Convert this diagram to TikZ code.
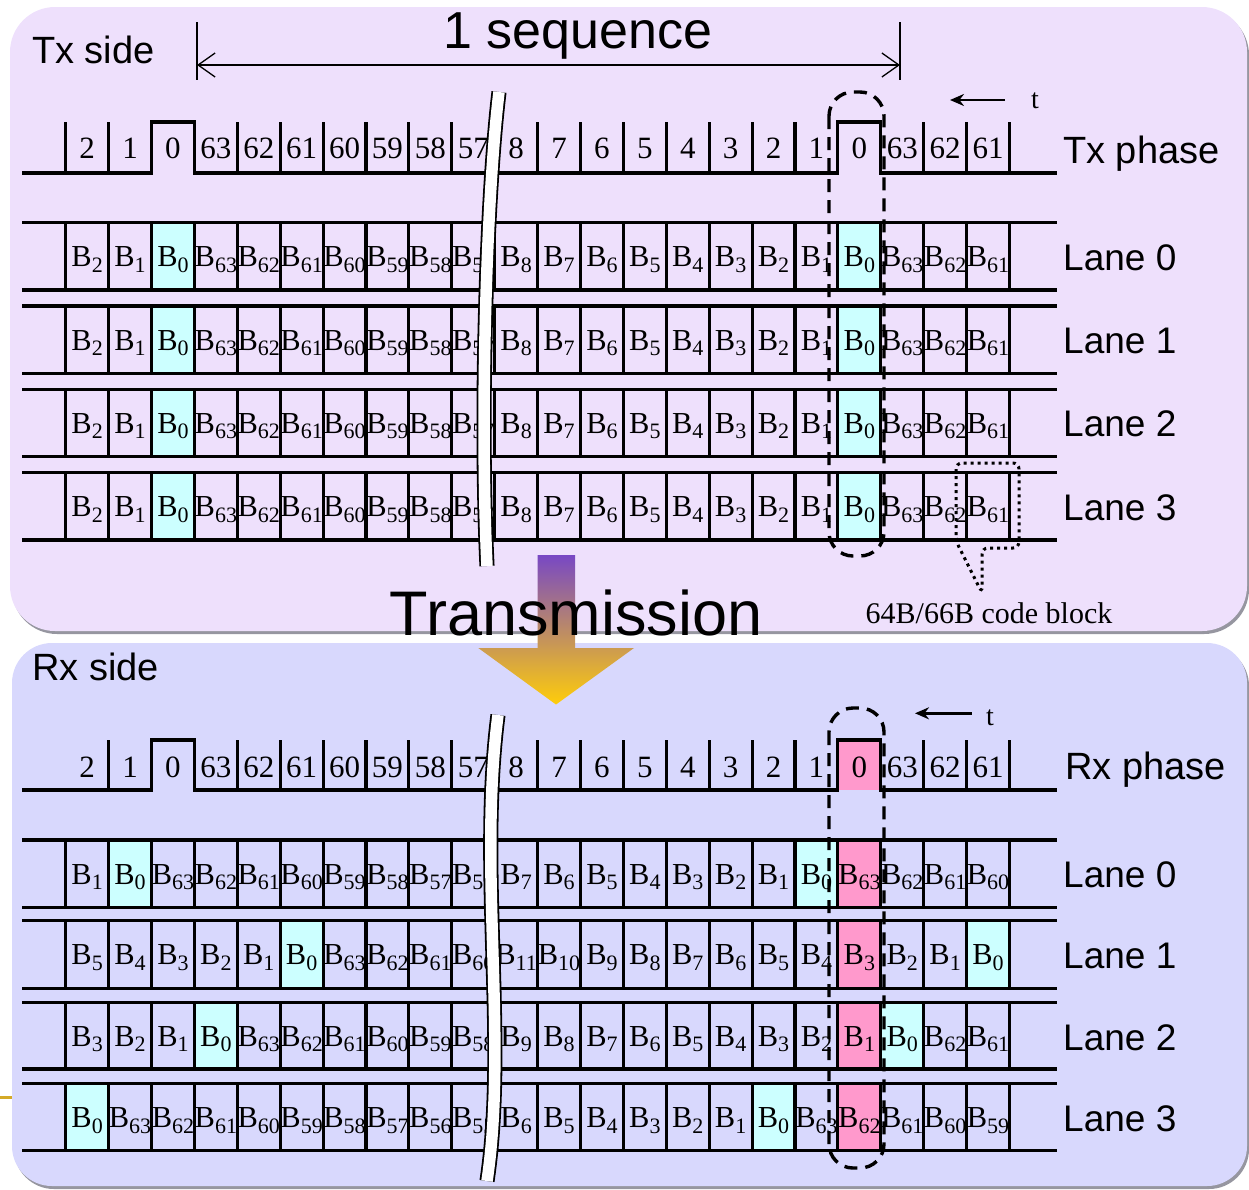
\documentclass[tikz,border=0pt]{standalone}
\usepackage{fontspec}
\setmainfont{Liberation Serif}
\newfontfamily\arialf{Liberation Sans}
\usetikzlibrary{arrows.meta}
\definecolor{toppanel}{RGB}{238,224,252}
\definecolor{botpanel}{RGB}{216,216,253}
\definecolor{shadowc}{RGB}{150,150,160}
\definecolor{cy}{RGB}{204,255,255}
\definecolor{pk}{RGB}{255,153,204}
\definecolor{arrtop}{RGB}{120,72,196}
\definecolor{arrmid}{RGB}{208,158,145}
\definecolor{arrbot}{RGB}{255,205,10}
\definecolor{goldc}{RGB}{212,170,40}
\newcommand\bsub[1]{B\raisebox{-0.18em}{\fontsize{22}{22}\selectfont #1}}
\newcommand\lanerow[4]{%
  \foreach \s/\f [count=\k from 0] in {#3} {%
    \path[fill=\f] (65.7+42.9*\k,#1) rectangle (108.6+42.9*\k,#2);
  }%
  \draw[grid] (22,#1) -- (1057,#1) (22,#2) -- (1057,#2);
  \foreach \k in {0,...,22} {\draw[grid] (65.7+42.9*\k,#1) -- (65.7+42.9*\k,#2);}%
  \pgfmathsetmacro\yb{(#1+#2)/2+10.5}%
  \foreach \s/\f [count=\k from 0] in {#3} {%
    \node[celltext] (#4\k) at (87.15+42.9*\k,\yb) {\bsub{\s}};
  }%
}
\begin{document}
\begin{tikzpicture}[x=1pt,y=-1pt,
  grid/.style={line width=3.1pt},
  celltext/.style={inner sep=0pt, anchor=base, font=\fontsize{30.5}{30}\selectfont},
  phasetext/.style={inner sep=0pt, anchor=base, font=\fontsize{31}{31}\selectfont},
  sanslabel/.style={inner sep=0pt, anchor=base west, font=\arialf\fontsize{37}{37}\selectfont},
  breakstrip/.style={line width=1.8pt, double=white, double distance=11.5pt},
  framedash/.style={line width=3.4pt, dash pattern=on 13pt off 8pt, rounded corners=24pt},
  calloutdot/.style={line width=3pt, dash pattern=on 3pt off 4pt, rounded corners=6pt},
]
\useasboundingbox (0,0) rectangle (1249,1189);
% gold mark
\draw[goldc, line width=2.5pt] (0,1097.7) -- (12,1097.7);
% panels
\fill[shadowc, rounded corners=45pt] (12,10) rectangle (1249,634);
\fill[toppanel, rounded corners=45pt] (10,7) rectangle (1247,631);
\fill[shadowc, rounded corners=40pt] (14,646) rectangle (1249,1189);
\fill[botpanel, rounded corners=40pt] (12,643) rectangle (1247,1186);

% ---------- Tx side ----------
\node[sanslabel, font=\arialf\fontsize{38}{38}\selectfont] (txside) at (32,63) {Tx side};
\coordinate (sqL) at (197,65);
\coordinate (sqR) at (900,65);
\draw[line width=1.3pt] (197,22) -- (197,80) (900,22) -- (900,80);
\draw[line width=1.3pt, {Straight Barb[length=17pt,width=24pt,line width=1.3pt]}-{Straight Barb[length=17pt,width=24pt,line width=1.3pt]}] (sqL) -- (sqR);
\node[inner sep=0pt, anchor=base, font=\arialf\fontsize{52}{52}\selectfont] (seq) at (578,48) {1 sequence};

% Tx phase
\draw[grid] (22,173) -- (151.5,173) -- (151.5,122) -- (194.4,122) -- (194.4,173) -- (837.9,173) -- (837.9,122) -- (880.8,122) -- (880.8,173) -- (1057,173);
\foreach \k in {0,1,4,5,6,7,8,9,10,11,12,13,14,15,16,17,20,21,22} {\draw[grid] (65.7+42.9*\k,122) -- (65.7+42.9*\k,173);}
\foreach \s [count=\k from 0] in {2,1,0,63,62,61,60,59,58,57,8,7,6,5,4,3,2,1,0,63,62,61} {%
  \node[phasetext] (txp\k) at (87.15+42.9*\k,158) {\s};
}
\node[sanslabel, font=\arialf\fontsize{38}{38}\selectfont] (txphase) at (1063,163) {Tx phase};
\coordinate (tA) at (1005,100);
\coordinate (tB) at (950,100);
\draw[line width=2.4pt, -{Stealth[length=14pt,width=12pt]}] (tA) -- (tB);
\node[inner sep=0pt, anchor=base, font=\fontsize{28}{28}\selectfont] (tt) at (1035,108) {t};

% Tx lanes
\lanerow{222.7}{290}{2/none,1/none,0/cy,63/none,62/none,61/none,60/none,59/none,58/none,57/none,8/none,7/none,6/none,5/none,4/none,3/none,2/none,1/none,0/cy,63/none,62/none,61/none}{txa}
\lanerow{306}{373.3}{2/none,1/none,0/cy,63/none,62/none,61/none,60/none,59/none,58/none,57/none,8/none,7/none,6/none,5/none,4/none,3/none,2/none,1/none,0/cy,63/none,62/none,61/none}{txb}
\lanerow{389.3}{456.7}{2/none,1/none,0/cy,63/none,62/none,61/none,60/none,59/none,58/none,57/none,8/none,7/none,6/none,5/none,4/none,3/none,2/none,1/none,0/cy,63/none,62/none,61/none}{txc}
\lanerow{472.7}{540}{2/none,1/none,0/cy,63/none,62/none,61/none,60/none,59/none,58/none,57/none,8/none,7/none,6/none,5/none,4/none,3/none,2/none,1/none,0/cy,63/none,62/none,61/none}{txd}
\node[sanslabel] (txl0) at (1063,270) {Lane 0};
\node[sanslabel] (txl1) at (1063,353.3) {Lane 1};
\node[sanslabel] (txl2) at (1063,436.7) {Lane 2};
\node[sanslabel] (txl3) at (1063,520) {Lane 3};

\draw[breakstrip] (499,92) .. controls (486,200) and (480,420) .. (487,566);
\draw[framedash] (829,92) rectangle (884,556);

% code block callout
\draw[calloutdot] (956,541) -- (956,463) -- (1019,463) -- (1019,548) -- (982,548) -- (982,593) -- cycle;
\node[inner sep=0pt, anchor=base, font=\fontsize{30}{30}\selectfont] (cb) at (989,623) {64B/66B code block};

% ---------- Transmission arrow ----------
\shade[top color=arrtop, middle color=arrmid, bottom color=arrbot]
  (537.7,555) -- (575,555) -- (575,648) -- (634,648) -- (556,704.5) -- (478.3,648) -- (537.7,648) -- cycle;
\node[inner sep=0pt, anchor=base, font=\arialf\fontsize{63}{63}\selectfont] (trans) at (576,635) {Transmission};

% ---------- Rx side ----------
\node[sanslabel, font=\arialf\fontsize{38}{38}\selectfont] (rxside) at (32,680) {Rx side};
\path[fill=pk] (837.9,740) rectangle (880.8,790);
\draw[grid] (22,790) -- (151.5,790) -- (151.5,740) -- (194.4,740) -- (194.4,790) -- (837.9,790) -- (837.9,740) -- (880.8,740) -- (880.8,790) -- (1057,790);
\foreach \k in {1,4,5,6,7,8,9,10,11,12,13,14,15,16,17,20,21,22} {\draw[grid] (65.7+42.9*\k,740) -- (65.7+42.9*\k,790);}
\foreach \s [count=\k from 0] in {2,1,0,63,62,61,60,59,58,57,8,7,6,5,4,3,2,1,0,63,62,61} {%
  \node[phasetext] (rxp\k) at (87.15+42.9*\k,777) {\s};
}
\node[sanslabel, font=\arialf\fontsize{38}{38}\selectfont] (rxphase) at (1065,779) {Rx phase};
\coordinate (rA) at (971.7,713.3);
\coordinate (rB) at (915,713.3);
\draw[line width=2.4pt, -{Stealth[length=14pt,width=12pt]}] (rA) -- (rB);
\node[inner sep=0pt, anchor=base, font=\fontsize{28}{28}\selectfont] (rt) at (990,725) {t};

\lanerow{840}{907.7}{1/none,0/cy,63/none,62/none,61/none,60/none,59/none,58/none,57/none,56/none,7/none,6/none,5/none,4/none,3/none,2/none,1/none,0/cy,63/pk,62/none,61/none,60/none}{rxa}
\lanerow{920.5}{988.3}{5/none,4/none,3/none,2/none,1/none,0/cy,63/none,62/none,61/none,60/none,11/none,10/none,9/none,8/none,7/none,6/none,5/none,4/none,3/pk,2/none,1/none,0/cy}{rxb}
\lanerow{1002.3}{1069}{3/none,2/none,1/none,0/cy,63/none,62/none,61/none,60/none,59/none,58/none,9/none,8/none,7/none,6/none,5/none,4/none,3/none,2/none,1/pk,0/cy,62/none,61/none}{rxc}
\lanerow{1083.3}{1150.7}{0/cy,63/none,62/none,61/none,60/none,59/none,58/none,57/none,56/none,55/none,6/none,5/none,4/none,3/none,2/none,1/none,0/cy,63/none,62/pk,61/none,60/none,59/none}{rxd}
\node[sanslabel] (rxl0) at (1063,887) {Lane 0};
\node[sanslabel] (rxl1) at (1063,968) {Lane 1};
\node[sanslabel] (rxl2) at (1063,1050) {Lane 2};
\node[sanslabel] (rxl3) at (1063,1131.7) {Lane 3};

\draw[breakstrip] (498,715) .. controls (478,870) and (508,1040) .. (487,1181);
\draw[framedash] (829,708) rectangle (884,1168);
\end{tikzpicture}
\end{document}
